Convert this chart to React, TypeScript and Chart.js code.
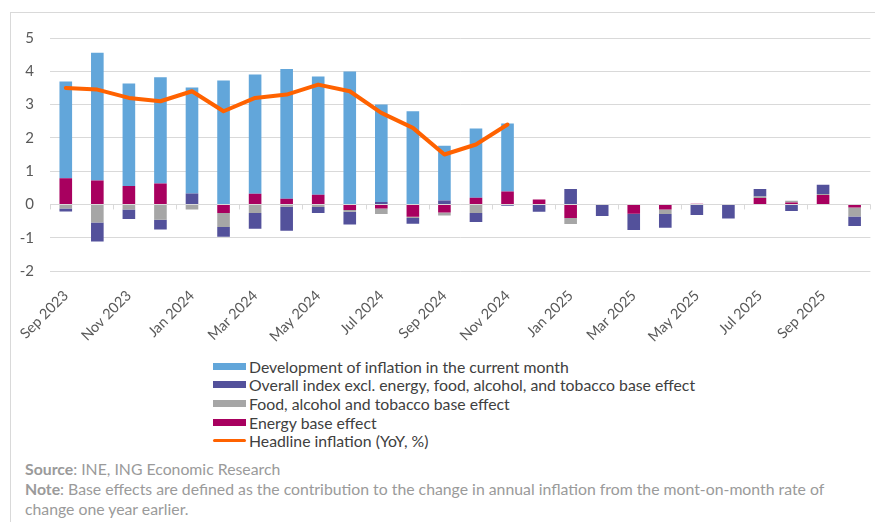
import React, { useEffect, useRef } from "react";
import { Chart, registerables } from "chart.js";

Chart.register(...registerables);

const months = [
  "Sep 2023", "Oct 2023", "Nov 2023", "Dec 2023",
  "Jan 2024", "Feb 2024", "Mar 2024", "Apr 2024", "May 2024", "Jun 2024",
  "Jul 2024", "Aug 2024", "Sep 2024", "Oct 2024", "Nov 2024", "Dec 2024",
  "Jan 2025", "Feb 2025", "Mar 2025", "Apr 2025", "May 2025", "Jun 2025",
  "Jul 2025", "Aug 2025", "Sep 2025", "Oct 2025",
];

const energyBase = [
  0.79, 0.72, 0.55, 0.63, 0, -0.26, 0.32, 0.17, 0.29, -0.17,
  -0.12, -0.37, -0.24, 0.2, 0.39, 0.15, -0.41, 0, -0.28, -0.15,
  0.02, 0, 0.19, 0.06, 0.28, -0.09,
];
const foodBase = [
  -0.12, -0.54, -0.15, -0.46, -0.15, -0.42, -0.26, -0.07, -0.08, -0.05,
  -0.17, -0.04, -0.09, -0.26, 0, 0, -0.18, -0.02, 0, -0.14,
  0, 0, 0.05, 0.05, 0.03, -0.27,
];
const coreBase = [
  -0.09, -0.57, -0.29, -0.29, 0.33, -0.29, -0.47, -0.72, -0.18, -0.38,
  0.07, -0.17, 0.12, -0.27, -0.04, -0.22, 0.46, -0.33, -0.49, -0.41,
  -0.32, -0.42, 0.22, -0.2, 0.28, -0.29,
];
const currentMonth = [
  2.9, 3.84, 3.08, 3.19, 3.18, 3.72, 3.58, 3.9, 3.55, 3.99,
  2.93, 2.8, 1.64, 2.08, 2.04, null, null, null, null, null,
  null, null, null, null, null, null,
];
const headline = [
  3.5, 3.45, 3.2, 3.1, 3.4, 2.8, 3.2, 3.3, 3.6, 3.4,
  2.75, 2.3, 1.5, 1.8, 2.4, null, null, null, null, null,
  null, null, null, null, null, null,
];

const yTicks = [-2, -1, 0, 1, 2, 3, 4, 5];

const COLORS = {
  current: "#62a6da",
  core: "#53519b",
  food: "#a6a6a6",
  energy: "#a8005f",
  headline: "#ff6200",
};

const legendItems = [
  { label: "Development of inflation in the current month", color: COLORS.current, line: false },
  { label: "Overall index excl. energy, food, alcohol, and tobacco base effect", color: COLORS.core, line: false },
  { label: "Food, alcohol and tobacco base effect", color: COLORS.food, line: false },
  { label: "Energy base effect", color: COLORS.energy, line: false },
  { label: "Headline inflation (YoY, %)", color: COLORS.headline, line: true },
];

const FONT = "Lato, 'Open Sans', sans-serif";

const zeroTicks = {
  id: "zeroTicks",
  beforeDatasetsDraw(chart: any) {
    const x = chart.scales.x;
    const y = chart.scales.y;
    const n = months.length;
    const y0 = y.getPixelForValue(0);
    const ctx = chart.ctx;
    ctx.save();
    ctx.strokeStyle = "#d9d9d9";
    ctx.lineWidth = 1;
    for (let i = 0; i <= n; i += 2) {
      const px = Math.round(x.left + (i * x.width) / n) + 0.5;
      ctx.beginPath();
      ctx.moveTo(px, y0);
      ctx.lineTo(px, y0 + 5);
      ctx.stroke();
    }
    ctx.restore();
  },
};

function ChartCanvas() {
  const ref = useRef<HTMLCanvasElement | null>(null);
  useEffect(() => {
    if (!ref.current) return;
    const barCommon = {
      type: "bar" as const,
      stack: "s",
      barPercentage: 0.4,
      categoryPercentage: 1,
      borderWidth: 0,
      order: 1,
    };
    const chart = new Chart(ref.current, {
      type: "bar",
      data: {
        labels: months,
        datasets: [
          { ...barCommon, label: "Energy base effect", data: energyBase, backgroundColor: COLORS.energy },
          { ...barCommon, label: "Food, alcohol and tobacco base effect", data: foodBase, backgroundColor: COLORS.food },
          { ...barCommon, label: "Overall index excl. energy, food, alcohol, and tobacco base effect", data: coreBase, backgroundColor: COLORS.core },
          { ...barCommon, label: "Development of inflation in the current month", data: currentMonth as any, backgroundColor: COLORS.current },
          {
            type: "line" as const,
            label: "Headline inflation (YoY, %)",
            data: headline as any,
            borderColor: COLORS.headline,
            backgroundColor: COLORS.headline,
            borderWidth: 4,
            pointRadius: 0,
            tension: 0,
            borderCapStyle: "round",
            borderJoinStyle: "round",
            order: 0,
            spanGaps: false,
          } as any,
        ],
      },
      options: {
        animation: false,
        responsive: false,
        maintainAspectRatio: false,
        layout: { padding: { top: 22, right: 4, left: 0, bottom: 0 } },
        plugins: {
          legend: { display: false },
          tooltip: { enabled: false },
        },
        scales: {
          x: {
            stacked: true,
            grid: { display: false },
            border: { display: false },
            ticks: {
              autoSkip: false,
              minRotation: 45,
              maxRotation: 45,
              padding: 8,
              color: "#595959",
              font: { family: FONT, size: 14.5 },
              callback: (_v: any, i: number) => (i % 2 === 0 ? months[i] : ""),
            },
            afterFit: (s: any) => {
              s.height = 82;
            },
          },
          y: {
            stacked: true,
            min: yTicks[0],
            max: yTicks[yTicks.length - 1],
            grid: { color: "#d9d9d9", lineWidth: 1, drawTicks: false },
            border: { display: false },
            ticks: {
              stepSize: 1,
              padding: 16,
              color: "#595959",
              font: { family: FONT, size: 15 },
            },
            afterFit: (s: any) => {
              s.width = 39;
            },
          },
        },
      },
      plugins: [zeroTicks],
    });
    return () => chart.destroy();
  }, []);
  return <canvas ref={ref} width={864} height={340} style={{ display: "block" }} />;
}

export default function App() {
  return (
    <div
      style={{
        position: "absolute",
        left: 10,
        top: 12,
        width: 880,
        height: 530,
        borderLeft: "1px solid #d9d9d9",
        borderTop: "1px solid #d9d9d9",
        boxSizing: "border-box",
        fontFamily: FONT,
        background: "#fff",
      }}
    >
      <div style={{ position: "absolute", left: 0, top: 0 }}>
        <ChartCanvas />
      </div>
      <div style={{ position: "absolute", left: 202, top: 344 }}>
        {legendItems.map((it) => (
          <div
            key={it.label}
            style={{ display: "flex", alignItems: "center", height: 18.6, fontSize: 15.8, color: "#404040", whiteSpace: "nowrap" }}
          >
            <span
              style={{
                display: "inline-block",
                width: 33,
                height: it.line ? 3 : 7,
                background: it.color,
                marginRight: 3,
                borderRadius: it.line ? 2 : 0,
              }}
            />
            <span>{it.label}</span>
          </div>
        ))}
      </div>
      <div
        style={{
          position: "absolute",
          left: 14,
          top: 446,
          fontSize: 15.8,
          lineHeight: "20px",
          color: "#9a9a9a",
          whiteSpace: "nowrap",
        }}
      >
        <div>
          <span style={{ fontWeight: 700 }}>Source</span>: INE, ING Economic Research
        </div>
        <div>
          <span style={{ fontWeight: 700 }}>Note</span>: Base effects are defined as the contribution to the change in annual inflation from the mont-on-month rate of
        </div>
        <div>change one year earlier.</div>
      </div>
    </div>
  );
}
